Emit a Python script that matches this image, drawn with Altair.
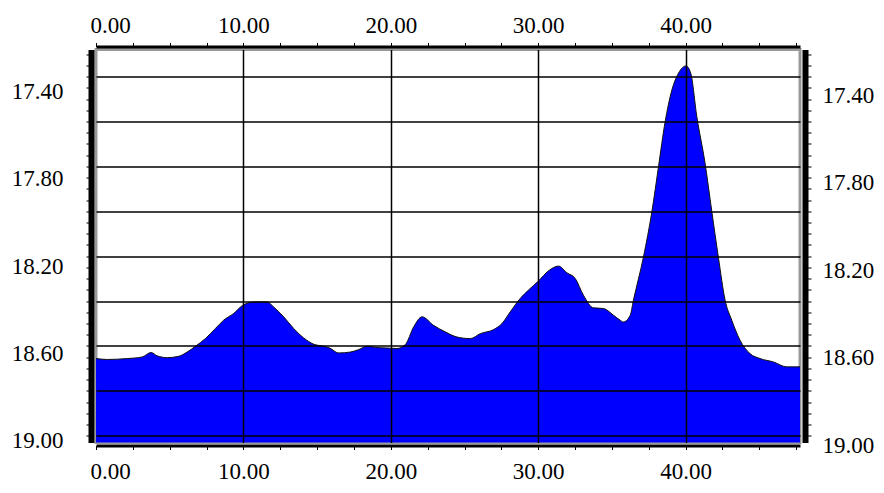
import altair as alt
import pandas as pd

# ---- data ----
TIME = [0.0, 0.76, 2.12, 3.13, 3.74, 4.15, 4.83, 5.61, 6.18, 6.75, 7.42, 8.10,
        8.66, 9.34, 9.91, 10.70, 11.61, 12.05, 12.73, 13.41, 14.09, 14.77, 15.44,
        15.85, 16.46, 17.25, 17.82, 18.39, 19.06, 19.74, 20.42, 20.98, 21.55,
        22.12, 22.90, 23.69, 24.49, 25.39, 26.07, 26.97, 27.54, 28.10, 28.78,
        29.34, 30.02, 30.70, 31.38, 31.95, 32.51, 33.07, 33.75, 34.43, 35.11,
        35.56, 35.78, 36.24, 36.46, 37.14, 37.71, 38.16, 38.61, 39.07, 39.51,
        40.03, 40.35, 40.76, 41.32, 41.78, 42.22, 42.68, 43.13, 43.69, 44.37,
        45.05, 45.95, 46.86, 47.76]
DEPTH = [18.656, 18.660, 18.656, 18.649, 18.629, 18.644, 18.652, 18.646, 18.627,
         18.601, 18.567, 18.522, 18.485, 18.455, 18.421, 18.404, 18.404, 18.426,
         18.470, 18.522, 18.564, 18.592, 18.601, 18.609, 18.631, 18.627, 18.616,
         18.601, 18.607, 18.609, 18.611, 18.594, 18.515, 18.470, 18.508, 18.537,
         18.560, 18.567, 18.545, 18.527, 18.500, 18.448, 18.388, 18.351, 18.310,
         18.265, 18.244, 18.274, 18.299, 18.374, 18.430, 18.433, 18.463, 18.485,
         18.493, 18.463, 18.396, 18.203, 18.002, 17.801, 17.601, 17.459, 17.385,
         17.352, 17.385, 17.578, 17.786, 18.002, 18.203, 18.396, 18.485, 18.574,
         18.634, 18.656, 18.671, 18.693, 18.693]

X_DOMAIN = [0, 47.76]
Y_DOMAIN = [17.279, 19.030]
X_TICKS = [0, 2.5, 5, 7.5, 10, 12.5, 15, 17.5, 20, 22.5, 25, 27.5, 30, 32.5,
           35, 37.5, 40, 42.5, 45, 47.5]
X_LABELS = [0, 10, 20, 30, 40]
X_GRID = [10, 20, 30, 40]
Y_TICKS = [17.30, 17.35, 17.40, 17.45, 17.50, 17.55, 17.60, 17.65, 17.70, 17.75,
           17.80, 17.85, 17.90, 17.95, 18.00, 18.05, 18.10, 18.15, 18.20, 18.25,
           18.30, 18.35, 18.40, 18.45, 18.50, 18.55, 18.60, 18.65, 18.70, 18.75,
           18.80, 18.85, 18.90, 18.95, 19.00]
Y_GRID = [17.4, 17.6, 17.8, 18.0, 18.2, 18.4, 18.6, 18.8, 19.0]
Y_LABELS = ["17.40", "17.80", "18.20", "18.60", "19.00"]

df = pd.DataFrame({"t": TIME, "v": DEPTH})

FONT = "Liberation Serif"
FS = 23

x_scale = alt.Scale(domain=X_DOMAIN, nice=False, zero=False)
y_scale = alt.Scale(domain=Y_DOMAIN, nice=False, zero=False, reverse=True)

x_label_expr = f"indexof({X_LABELS}, datum.value) >= 0 ? format(datum.value, '.2f') : ''"
y_label_expr = f"indexof({Y_LABELS}, format(datum.value, '.2f')) >= 0 ? format(datum.value, '.2f') : ''"


def x_axis(orient, pad):
    return alt.Axis(orient=orient, values=X_TICKS, labelExpr=x_label_expr,
                    tickSize=4, tickColor="black", tickWidth=1,
                    domainColor="black", domainWidth=3, offset=3,
                    labelFont=FONT, labelFontSize=FS, labelColor="black",
                    labelPadding=pad, labelFlush=True, labelFlushOffset=6,
                    labelOverlap=False, labelBound=False, grid=False, title=None)


def y_axis(orient, pad, tick, offset_expr):
    return alt.Axis(orient=orient, values=Y_TICKS, labelExpr=y_label_expr,
                    tickSize=tick, tickColor="black", tickWidth=1,
                    domainColor="black", domainWidth=6, offset=5,
                    labelFont=FONT, labelFontSize=FS, labelColor="black",
                    labelPadding=pad, labelBaseline="middle",
                    labelOffset={"expr": offset_expr},
                    labelOverlap=False, labelBound=False, labelFlush=False,
                    grid=False, title=None)


base = alt.Chart(df)

area = base.mark_area(
    color="#0000FF", opacity=1, fillOpacity=1, interpolate="monotone",
    line={"color": "#111111", "strokeWidth": 1},
).encode(
    x=alt.X("t:Q", scale=x_scale, axis=x_axis("top", 5.5)),
    y=alt.Y("v:Q", scale=y_scale,
            axis=y_axis("left", 23, 5, "14.8 - 6.25 * (datum.value - 17.4)")),
    y2=alt.datum(Y_DOMAIN[1]),
)

frame2 = base.mark_line(opacity=0).encode(
    x=alt.X("t:Q", scale=x_scale, axis=x_axis("bottom", 11)),
    y=alt.Y("v:Q", scale=y_scale,
            axis=y_axis("right", 11, 6, "18.8 - 5.9 * (datum.value - 17.4)")),
)

grid = base.mark_line(opacity=0).encode(
    x=alt.X("t:Q", scale=x_scale,
            axis=alt.Axis(orient="bottom", values=X_GRID, grid=True, gridColor="black",
                          gridWidth=1.5, gridOpacity=1, domain=False, ticks=False,
                          labels=False, title=None, zindex=1)),
    y=alt.Y("v:Q", scale=y_scale,
            axis=alt.Axis(orient="left", values=Y_GRID, grid=True, gridColor="black",
                          gridWidth=1.5, gridOpacity=1, domain=False, ticks=False,
                          labels=False, title=None, zindex=1)),
)

chart = alt.layer(area, frame2, grid).resolve_axis(
    x="independent", y="independent"
).properties(
    width=704, height=393,
    autosize=alt.AutoSizeParams(type="none"),
    padding={"left": 88, "top": 41.5, "right": 76, "bottom": 42.5},
    background="white",
).configure_view(stroke="#999999", strokeWidth=3)

chart.save("out.html", embed_options={"renderer": "svg", "actions": False})
